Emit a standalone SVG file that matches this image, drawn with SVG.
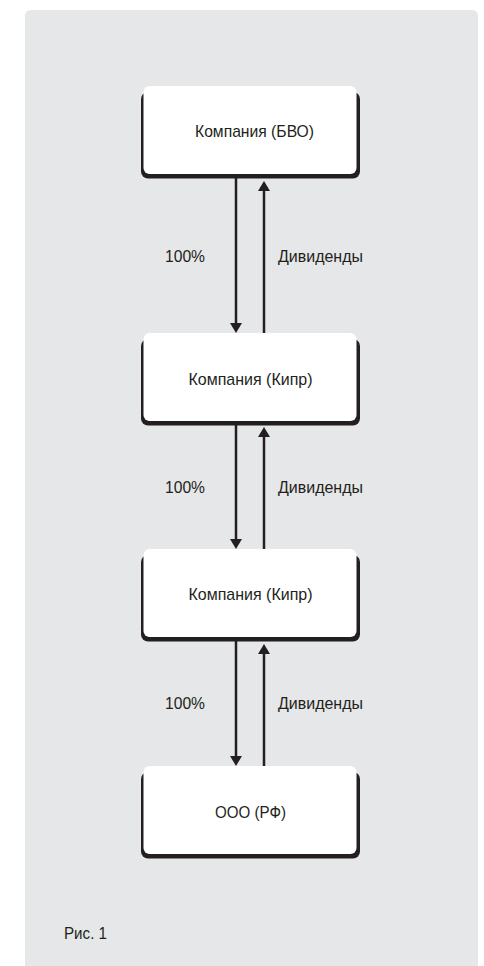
<svg xmlns="http://www.w3.org/2000/svg" width="484" height="966" viewBox="0 0 484 966">
  <style>
    .panel { fill: #e6e7e8; }
    .shadow { fill: #231f20; }
    .face { fill: #ffffff; }
    .t { font-family: "Liberation Sans", Arial, sans-serif; font-size: 17px; fill: #231f20; }
    .c { text-anchor: middle; }
    .conn { stroke: #231f20; stroke-width: 2.5; fill: none; marker-end: url(#ah); }
  </style>
  <defs>
    <marker id="ah" viewBox="0 0 10 12" refX="5" refY="6" markerWidth="10" markerHeight="12" markerUnits="userSpaceOnUse" orient="auto">
      <path d="M0,0 L10,6 L0,12 z" fill="#231f20"/>
    </marker>
  </defs>
  <rect x="0" y="0" width="484" height="966" fill="#ffffff"/>
  <path class="panel" d="M25,16 Q25,10 31,10 L472,10 Q478,10 478,16 L478,966 L25,966 Z"/>

  <g id="node-bvo">
    <rect class="shadow" x="141" y="92" width="219" height="86.5" rx="7"/>
    <rect class="face" x="143.5" y="86" width="213" height="88" rx="6"/>
    <text class="t c" x="254.5" y="137" textLength="119" lengthAdjust="spacingAndGlyphs">Компания (БВО)</text>
  </g>
  <g id="node-cyprus1">
    <rect class="shadow" x="141" y="339" width="219" height="86.5" rx="7"/>
    <rect class="face" x="143.5" y="333" width="213" height="88" rx="6"/>
    <text class="t c" x="250.5" y="385" textLength="124" lengthAdjust="spacingAndGlyphs">Компания (Кипр)</text>
  </g>
  <g id="node-cyprus2">
    <rect class="shadow" x="141" y="555" width="219" height="86.5" rx="7"/>
    <rect class="face" x="143.5" y="549" width="213" height="88" rx="6"/>
    <text class="t c" x="250.5" y="600" textLength="124" lengthAdjust="spacingAndGlyphs">Компания (Кипр)</text>
  </g>
  <g id="node-ooo">
    <rect class="shadow" x="141" y="772" width="219" height="86.5" rx="7"/>
    <rect class="face" x="143.5" y="766" width="213" height="88" rx="6"/>
    <text class="t c" x="250.5" y="818" textLength="71" lengthAdjust="spacingAndGlyphs">ООО (РФ)</text>
  </g>

  <g id="connectors">
    <line class="conn" x1="236" y1="178" x2="236" y2="328"/>
    <line class="conn" x1="264" y1="333" x2="264" y2="186"/>
    <line class="conn" x1="236" y1="425" x2="236" y2="544"/>
    <line class="conn" x1="264" y1="549" x2="264" y2="432"/>
    <line class="conn" x1="236" y1="641" x2="236" y2="761"/>
    <line class="conn" x1="264" y1="766" x2="264" y2="649"/>
  </g>

  <g id="labels">
    <text class="t c" x="185" y="262" textLength="40" lengthAdjust="spacingAndGlyphs">100%</text>
    <text class="t" x="278" y="262" textLength="85" lengthAdjust="spacingAndGlyphs">Дивиденды</text>
    <text class="t c" x="185" y="493" textLength="40" lengthAdjust="spacingAndGlyphs">100%</text>
    <text class="t" x="278" y="493" textLength="85" lengthAdjust="spacingAndGlyphs">Дивиденды</text>
    <text class="t c" x="185" y="709" textLength="40" lengthAdjust="spacingAndGlyphs">100%</text>
    <text class="t" x="278" y="709" textLength="85" lengthAdjust="spacingAndGlyphs">Дивиденды</text>
  </g>
  <text class="t" x="64" y="939" textLength="43" lengthAdjust="spacingAndGlyphs">Рис. 1</text>
</svg>
